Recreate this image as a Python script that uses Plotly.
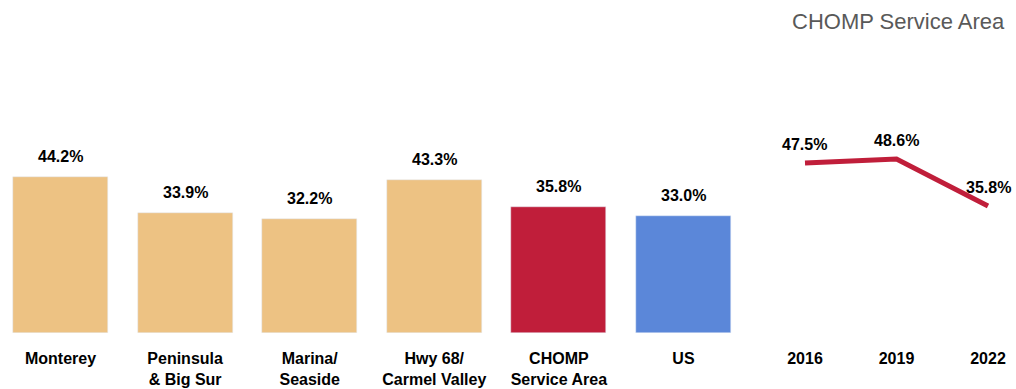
import plotly.graph_objects as go

categories = ["Monterey", "Peninsula<br>& Big Sur", "Marina/<br>Seaside", "Hwy 68/<br>Carmel Valley", "CHOMP<br>Service Area", "US"]
values = [44.2, 33.9, 32.2, 43.3, 35.8, 33.0]
bar_colors = ["#EDC283", "#EDC283", "#EDC283", "#EDC283", "#C01E3A", "#5B87D9"]

years = ["2016", "2019", "2022"]
trend = [47.5, 48.6, 35.8]

title_text = "CHOMP Service Area"

NARROW = "Liberation Sans Narrow, Arial Narrow, Arial, sans-serif"
W, H = 1016, 389
B = 56

fig = go.Figure()
fig.add_trace(go.Bar(
    x=categories, y=values, marker_color=bar_colors, width=0.762,
    xaxis="x", yaxis="y", showlegend=False, hoverinfo="skip",
))
fig.add_trace(go.Scatter(
    x=years, y=trend, mode="lines", line=dict(color="#C01E3A", width=5),
    xaxis="x2", yaxis="y2", showlegend=False, hoverinfo="skip",
))

annotations = []
for c, v in zip(categories, values):
    annotations.append(dict(x=c, y=v, xref="x", yref="y", text=f"<b>{v:.1f}%</b>",
                            showarrow=False, yanchor="bottom", yshift=10,
                            font=dict(family=NARROW, size=16, color="#000000")))
for i, (yr, v) in enumerate(zip(years, trend)):
    annotations.append(dict(x=i, y=v, xref="x2", yref="y2", text=f"<b>{v:.1f}%</b>",
                            showarrow=False, yanchor="bottom", yshift=8,
                            font=dict(family=NARROW, size=16, color="#000000")))
annotations.append(dict(x=1007 / W, y=(H - B - 22) / (H - B), xref="paper", yref="paper",
                        text=title_text, showarrow=False, xanchor="right", yanchor="middle",
                        font=dict(family="Liberation Sans, Arial, sans-serif", size=22, color="#595959")))

fig.update_layout(
    width=W, height=H,
    margin=dict(l=0, r=0, t=0, b=B),
    paper_bgcolor="white", plot_bgcolor="white",
    bargap=0,
    annotations=annotations,
    xaxis=dict(domain=[0, 750 / W], range=[-0.4856, 5.534], showgrid=False, zeroline=False,
               showline=False, ticks="", ticklabelstandoff=14,
               tickfont=dict(family=NARROW, size=16, color="#000000"), type="category"),
    yaxis=dict(domain=[0, 1], range=[0, 94.3], visible=False),
    xaxis2=dict(domain=[750 / W, 1], range=[-0.601, 2.306], showgrid=False, zeroline=False,
                showline=False, ticks="", ticklabelstandoff=14,
                tickfont=dict(family=NARROW, size=16, color="#000000"), type="category", anchor="y2"),
    yaxis2=dict(domain=[0, 1], range=[1.23, 91.9], visible=False, anchor="x2"),
)
fig.update_xaxes(tickprefix="<b>", ticksuffix="</b>")
fig.write_html("out.html", config={"displayModeBar": False},
               post_script="document.body.style.margin='0';document.body.style.overflow='hidden';")
